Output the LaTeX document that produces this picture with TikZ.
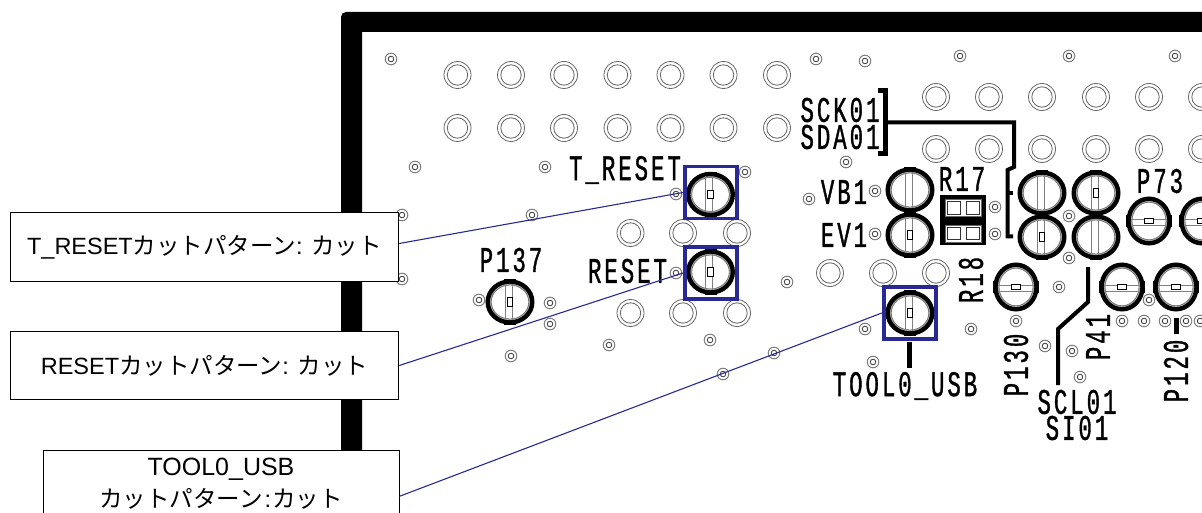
\documentclass[tikz,border=0pt]{standalone}
\usepackage{fontspec}
\setmainfont{Liberation Sans}
\newfontfamily\jp{Noto Sans CJK JP}
\newfontfamily\pcb[FakeStretch=.62,LetterSpace=8.3,FakeBold=1]{Liberation Mono}
\definecolor{cutblue}{RGB}{41,41,150}
\newcommand\boardpad[4]{%
  \begin{scope}[shift={(#1,#2)},rotate=#3]
    \draw[line width=1.8pt,black!30] (0,0) ellipse [x radius=19.6pt,y radius=17.8pt];
    \draw[line width=4.4pt,black] (0,0) ellipse [x radius=22.3pt,y radius=20.5pt];
    \draw[line width=.8pt,black!55] (0,0) ellipse [x radius=18.8pt,y radius=17pt];
    \draw[line width=2.2pt,black] (-6,-21.5) -- (6,-21.5) (-6,21.5) -- (6,21.5);
    \draw[line width=.9pt,black!50] (-4.8,-18) -- (-4.8,18) (2,-18) -- (2,18);
    \ifnum#4=1
      \draw[line width=.8pt,black,fill=white] (-2.7,-4.2) rectangle (2.7,4.2);
    \fi
  \end{scope}}
\tikzset{
  ringhole/.style={draw=black!60,line width=.8pt,circle,minimum size=27pt,inner sep=0pt,
    path picture={\draw[black!60,line width=.8pt] (path picture bounding box.center) circle (10.2pt);}},
  viahole/.pic={\draw[black!50,line width=1pt] (0,0) circle (5.8pt);
                \draw[black!80,line width=.8pt] (0,0) circle (2.8pt);},
  pcblabel/.style={font=\pcb\fontsize{36}{36}\selectfont,inner sep=0pt},
  cutbox/.style={draw=cutblue,line width=3.8pt,minimum width=52.5pt,minimum height=52pt,inner sep=0pt},
  callout/.style={draw=black,line width=1pt,fill=white,inner sep=0pt,
    font=\fontsize{23.5}{32}\selectfont,align=center},
  leader/.style={draw=cutblue,line width=1.1pt},
  silk/.style={draw=black,line width=4pt}
}
\begin{document}
\begin{tikzpicture}[x=1pt,y=-1pt]
\useasboundingbox (0,0) rectangle (1202,513);
\clip (0,0) rectangle (1202,513);
% board frame
\fill[black] (341,513) -- (341,17) arc[start angle=180,end angle=90,radius=5pt] -- (1202,12)
  -- (1202,32) -- (362,32) -- (362,513) -- cycle;
% vias
\foreach \x/\y in {391/59,816/59,865/61,960/56,1069/56,1175/56,415/167,545/167,402/215,532/215,
  402/279,745/172,676/194,846/162,809/199,875/191,995/207,995/234,875/234,1069/216,1069/258,
  787/282,1059/287,865/329,971/329,873/362,1016/321,1045/346,1072/351,1080/377,1122/321,1144/321,
  1165/321,1186/321,1149/300,1200/321,479/300,550/303,550/324,511/356,609/345,676/273,710/340,
  723/374,774/353}
  \pic at (\x,\y) {viahole};
% through holes
\foreach \y in {75,128}
  \foreach \x in {457.5,511,564,617.5,670.5,723.5,777}
    \node[ringhole] at (\x,\y) {};
\foreach \y in {97,149}
  \foreach \x in {936,989,1042,1096,1149,1202}
    \node[ringhole] at (\x,\y) {};
\foreach \x/\y in {630.5/233,683/233,737/233,630.5/313,683/313,737/313,830/273,883/273,936/273}
  \node[ringhole] at (\x,\y) {};
% test pads
\boardpad{710.5}{194.5}{0}{1}
\boardpad{710.5}{272}{0}{1}
\boardpad{510}{302}{0}{1}
\boardpad{910}{313}{0}{1}
\boardpad{910}{190}{0}{0}
\boardpad{910}{235}{0}{1}
\boardpad{1042}{193}{0}{0}
\boardpad{1096}{193}{0}{1}
\boardpad{1042}{237}{0}{1}
\boardpad{1096}{237}{0}{0}
\boardpad{1149}{221}{90}{1}
\boardpad{1202}{221}{90}{1}
\boardpad{1016}{287}{90}{1}
\boardpad{1122}{287}{90}{1}
\boardpad{1176}{287}{90}{1}
% R17/R18 jumper block
\fill[black] (940,195) rectangle (986,245);
\foreach \y in {199.5,225}
  \fill[white] (945,\y) rectangle ++(36,17);
\foreach \y in {199.5,225}
  \draw[draw=black!60,line width=.8pt] (945,\y) rectangle ++(36,17);
\foreach \y in {202,227.5}
  \foreach \x in {947,966}
    \draw[fill=white,draw=black!80,line width=1pt] (\x,\y) rectangle ++(13.5,12.5);
% silkscreen lines
\draw[line width=5pt] (878,91) -- (885.5,91) -- (885.5,154) -- (878,154);
\draw[silk] (885,122.5) -- (1014,122.5) -- (1014,167) -- (1007.5,170) -- (1007.5,236.5) -- (1013,236.5);
\draw[silk] (1007.5,193.5) -- (1013,193.5);
\draw[silk] (1088,267) -- (1088,302) -- (1058,329) -- (1058,385);
\draw[line width=5pt] (909,342) -- (909,368);
\draw[line width=5pt] (1176,318) -- (1176,334);
% silkscreen labels
\node[pcblabel] (lt) at (625,170) {T\_RESET};
\node[pcblabel] (lr) at (627.5,271) {RESET};
\node[pcblabel] (lp137) at (511,260) {P137};
\node[pcblabel] (lvb) at (844,192) {VB1};
\node[pcblabel] (lev) at (844,235) {EV1};
\node[pcblabel] (lsck) at (840,110) {SCK01};
\node[pcblabel] (lsda) at (840,137) {SDA01};
\node[pcblabel] (lr17) at (962,179) {R17};
\node[pcblabel] (lp73) at (1160,181) {P73};
\node[pcblabel] (ltool) at (905,386) {TOOL0\_USB};
\node[pcblabel] (lscl) at (1077,402) {SCL01};
\node[pcblabel] (lsi) at (1077,428) {SI01};
\node[pcblabel,rotate=90] (lr18) at (971,280) {R18};
\node[pcblabel,rotate=90] (lp130) at (1016,365) {P130};
\node[pcblabel,rotate=90] (lp41) at (1098,337) {P41};
\node[pcblabel,rotate=90] (lp120) at (1176,371) {P120};
% cut markers
\node[cutbox] (ct) at (711,192.5) {};
\node[cutbox] (cr) at (711,273) {};
\node[cutbox] (cu) at (910,313) {};
% callouts
\node[callout,minimum width=388.5pt,minimum height=68pt] (bt) at (204.5,247)
  {T\_RESET{\jp カットパターン}: {\jp カット}};
\node[callout,minimum width=388.5pt,minimum height=67.5pt] (br) at (204.5,365.5)
  {RESET{\jp カットパターン}: {\jp カット}};
\node[callout,minimum width=356pt,minimum height=68pt] (bu) at (221,484)
  {{\fontsize{25}{32}\selectfont TOOL0\_USB}\\{\jp カットパターン}\kern2pt:\kern1pt{\jp カット}};
% leaders
\draw[leader] ([yshift=3.5pt]bt.east) -- (ct.west);
\draw[leader] (br.east) -- (cr.west);
\draw[leader] ([yshift=-12.3pt]bu.east) -- (cu.west);
\end{tikzpicture}
\end{document}
